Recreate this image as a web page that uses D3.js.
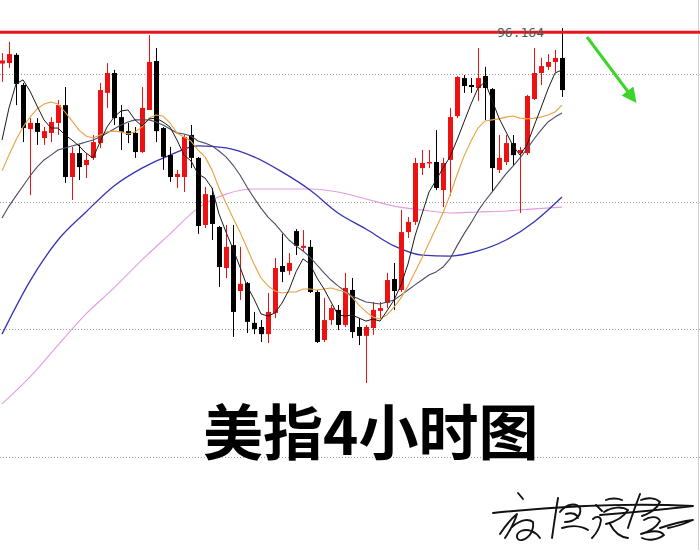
<!DOCTYPE html>
<html>
<head>
<meta charset="utf-8">
<script src="https://cdn.jsdelivr.net/npm/d3@7"></script>
<style>
  body { margin: 0; background: #fff; }
  svg { display: block; }
</style>
</head>
<body>
<svg id="chart" width="700" height="550"></svg>
<script>
// US Dollar Index, 4-hour bars
const opens = [
  96.041,96.043,96.075,95.957,95.784,95.808,95.749,95.769,95.808,95.878,
  95.596,95.690,95.643,95.671,95.729,95.926,96.004,95.831,95.776,95.769,
  95.694,95.859,96.051,95.788,95.682,95.596,95.596,95.761,95.671,95.408,
  95.525,95.400,95.239,95.329,95.149,95.180,95.024,95.008,94.980,95.063,
  95.247,95.228,95.384,95.318,95.322,95.145,94.957,95.035,95.075,95.016,
  95.153,95.008,94.973,95.004,95.071,95.102,95.196,95.153,95.380,95.420,
  95.631,95.651,95.655,95.545,95.663,95.835,95.984,95.957,95.945,95.992,
  95.941,95.624,95.655,95.729,95.690,95.690,95.902,96.004,96.028,96.047,
  96.063
];
const highs = [
  96.082,96.126,96.082,95.965,95.827,95.827,95.792,95.831,95.898,95.949,
  95.714,95.722,95.690,95.761,95.965,96.043,96.016,95.878,95.808,95.792,
  95.949,96.153,96.102,95.792,95.714,95.624,95.761,95.800,95.675,95.557,
  95.553,95.404,95.408,95.408,95.322,95.184,95.067,95.035,95.141,95.278,
  95.373,95.298,95.392,95.388,95.349,95.153,95.122,95.094,95.094,95.220,
  95.200,95.043,95.016,95.106,95.106,95.220,95.259,95.467,95.439,95.671,
  95.702,95.702,95.780,95.671,95.867,95.992,95.996,95.984,96.102,96.028,
  95.945,95.761,95.761,95.761,95.714,95.918,96.102,96.063,96.078,96.094,
  96.180
];
const lows = [
  95.969,96.024,95.878,95.733,95.525,95.722,95.722,95.733,95.761,95.573,
  95.506,95.584,95.592,95.663,95.710,95.867,95.800,95.702,95.729,95.671,
  95.690,95.859,95.733,95.624,95.577,95.553,95.537,95.631,95.373,95.396,
  95.349,95.165,95.200,94.969,95.114,94.984,94.980,94.949,94.945,95.043,
  95.184,95.212,95.290,95.302,95.141,94.945,94.949,95.016,94.996,95.008,
  94.965,94.937,94.788,94.977,95.043,95.082,95.075,95.145,95.357,95.408,
  95.604,95.631,95.545,95.478,95.522,95.827,95.926,95.926,95.894,95.820,
  95.537,95.612,95.643,95.643,95.455,95.682,95.898,95.957,96.016,96.008,
  95.910
];
const closes = [
  96.053,96.078,95.961,95.788,95.808,95.773,95.776,95.812,95.878,95.596,
  95.690,95.635,95.663,95.733,95.937,96.004,95.827,95.773,95.761,95.694,
  95.867,96.047,95.776,95.675,95.596,95.608,95.753,95.671,95.404,95.529,
  95.412,95.243,95.322,95.067,95.177,95.028,95.000,94.980,95.067,95.239,
  95.224,95.259,95.326,95.326,95.145,94.949,95.035,95.082,95.016,95.161,
  94.988,94.973,95.008,95.075,95.082,95.192,95.149,95.380,95.420,95.651,
  95.651,95.655,95.553,95.651,95.831,95.988,95.953,95.949,95.984,95.945,
  95.631,95.671,95.729,95.682,95.702,95.914,96.004,96.031,96.047,96.063,
  95.937
];

// moving averages, one value per bar
const ma5 = [
  95.741,95.867,95.961,95.977,95.933,95.875,95.820,95.788,95.788,95.761,
  95.741,95.718,95.690,95.671,95.733,95.792,95.831,95.855,95.859,95.820,
  95.796,95.824,95.827,95.812,95.792,95.741,95.682,95.659,95.608,95.592,
  95.553,95.451,95.380,95.314,95.243,95.169,95.118,95.059,95.051,95.063,
  95.102,95.153,95.224,95.275,95.255,95.200,95.157,95.106,95.055,95.051,
  95.055,95.043,95.031,95.039,95.031,95.071,95.114,95.173,95.255,95.365,
  95.451,95.537,95.584,95.631,95.675,95.741,95.812,95.882,95.945,95.969,
  95.898,95.827,95.773,95.718,95.682,95.722,95.796,95.867,95.941,96.004,
  96.016
];
const ma10 = [
  95.620,95.682,95.741,95.792,95.831,95.863,95.882,95.890,95.882,95.851,
  95.816,95.780,95.757,95.749,95.761,95.773,95.776,95.773,95.765,95.773,
  95.792,95.827,95.839,95.835,95.808,95.769,95.753,95.737,95.702,95.675,
  95.624,95.553,95.494,95.435,95.380,95.318,95.255,95.200,95.169,95.149,
  95.141,95.145,95.145,95.157,95.157,95.153,95.157,95.161,95.153,95.145,
  95.125,95.094,95.067,95.047,95.039,95.055,95.086,95.122,95.169,95.224,
  95.278,95.337,95.396,95.455,95.525,95.604,95.678,95.737,95.788,95.816,
  95.820,95.824,95.831,95.835,95.827,95.824,95.827,95.831,95.839,95.851,
  95.878
];
const ma20 = [
  95.435,95.482,95.522,95.561,95.600,95.635,95.663,95.682,95.702,95.710,
  95.718,95.725,95.733,95.741,95.753,95.769,95.784,95.800,95.812,95.820,
  95.820,95.820,95.812,95.800,95.784,95.769,95.765,95.757,95.737,95.729,
  95.718,95.698,95.675,95.643,95.604,95.557,95.514,95.474,95.439,95.412,
  95.380,95.349,95.326,95.306,95.282,95.251,95.220,95.192,95.169,95.149,
  95.129,95.118,95.106,95.102,95.098,95.106,95.114,95.133,95.153,95.173,
  95.192,95.212,95.224,95.243,95.275,95.326,95.373,95.416,95.463,95.502,
  95.537,95.573,95.608,95.639,95.671,95.706,95.745,95.780,95.812,95.831,
  95.847
];
// slow averages, one value every 4 bars
const slowStep = 4;
const ma60 = [
  94.980,95.188,95.349,95.459,95.561,95.631,95.682,95.718,95.710,95.675,
  95.616,95.545,95.455,95.392,95.326,95.290,95.286,95.306,95.349,95.420,
  95.518
];
const ma120 = [
  94.706,94.812,94.937,95.059,95.161,95.271,95.373,95.474,95.529,95.549,
  95.549,95.549,95.537,95.510,95.482,95.467,95.455,95.459,95.463,95.471,
  95.478
];

const gridLevels = [96.0, 95.5, 95.0, 94.5];
const resistance = 96.164;
const resistanceLabel = "96.164";
const title = "美指4小时图";

const W = 700, H = 550;
const svg = d3.select("#chart");

const n = closes.length;
const x = d3.scaleLinear().domain([0, n - 1]).range([2, 562]);
const y = d3.scaleLinear().domain([94.5, 96.0]).range([456.5, 74]);

// dotted price grid
const gridAxis = d3.axisLeft(y)
  .tickValues(gridLevels)
  .tickSize(-W)
  .tickFormat("");
const grid = svg.append("g").call(gridAxis);
grid.select(".domain").remove();
grid.selectAll(".tick line")
  .attr("stroke", "#9a9a9a")
  .attr("stroke-width", 1)
  .attr("stroke-dasharray", "1,2")
  .attr("shape-rendering", "crispEdges");

// right frame edge
svg.append("line")
  .attr("x1", W - 1.5).attr("x2", W - 1.5)
  .attr("y1", 0).attr("y2", H)
  .attr("stroke", "#d0d0d0").attr("stroke-width", 1);

// moving average lines
function drawLine(values, step, color, width) {
  const line = d3.line()
    .x((d, i) => x(i * step))
    .y(d => y(d))
    .curve(step > 1 ? d3.curveMonotoneX : d3.curveLinear);
  svg.append("path")
    .datum(values)
    .attr("fill", "none")
    .attr("stroke", color)
    .attr("stroke-width", width)
    .attr("stroke-linejoin", "round")
    .attr("d", line);
}
drawLine(ma120, slowStep, "#e39be3", 1.1);
drawLine(ma60, slowStep, "#3434b4", 1.3);

// candlesticks
const bars = d3.range(n).map(i => ({
  i, o: opens[i], h: highs[i], l: lows[i], c: closes[i]
}));
const upColor = "#ee1111", downColor = "#000000";
const bodyW = 5;
const candles = svg.append("g").selectAll("g")
  .data(bars).join("g");
candles.append("line")
  .attr("x1", d => Math.round(x(d.i)) + 0.5)
  .attr("x2", d => Math.round(x(d.i)) + 0.5)
  .attr("y1", d => y(d.h))
  .attr("y2", d => y(d.l))
  .attr("stroke", d => d.c >= d.o ? upColor : downColor)
  .attr("stroke-width", 1);
candles.append("rect")
  .attr("x", d => Math.round(x(d.i)) + 0.5 - bodyW / 2)
  .attr("width", bodyW)
  .attr("y", d => y(Math.max(d.o, d.c)))
  .attr("height", d => Math.max(1.5, Math.abs(y(d.o) - y(d.c))))
  .attr("fill", d => d.c >= d.o ? upColor : downColor);

drawLine(ma20, 1, "#4b4b66", 1.1);
drawLine(ma10, 1, "#e8a040", 1.1);
drawLine(ma5, 1, "#1a1a1a", 1);

// resistance level
svg.append("line")
  .attr("x1", 0).attr("x2", W)
  .attr("y1", y(resistance)).attr("y2", y(resistance))
  .attr("stroke", "#e3161c").attr("stroke-width", 3);
svg.append("text")
  .attr("x", 497).attr("y", y(resistance) + 4.5)
  .attr("font-family", "DejaVu Sans Mono, monospace")
  .attr("font-size", 13)
  .attr("fill", "#555")
  .text(resistanceLabel);

// expected direction arrow
const defs = svg.append("defs");
defs.append("marker")
  .attr("id", "arrowHead")
  .attr("viewBox", "0 0 10 10")
  .attr("refX", 5).attr("refY", 5)
  .attr("markerWidth", 5).attr("markerHeight", 5)
  .attr("orient", "auto")
  .append("path")
  .attr("d", "M0,0 L10,5 L0,10 z")
  .attr("fill", "#3bd52a");
svg.append("line")
  .attr("x1", 587).attr("y1", 37)
  .attr("x2", 632).attr("y2", 97)
  .attr("stroke", "#3bd52a")
  .attr("stroke-width", 3)
  .attr("marker-end", "url(#arrowHead)");

// chart title
svg.append("text")
  .attr("x", 203).attr("y", 455)
  .attr("font-family", "'Noto Sans CJK SC', sans-serif")
  .attr("font-weight", 700)
  .attr("font-size", 60)
  .attr("fill", "#000")
  .text(title);

// author's signature
const sig = svg.append("g")
  .attr("fill", "none")
  .attr("stroke", "#111")
  .attr("stroke-width", 1.9)
  .attr("stroke-linecap", "round")
  .attr("stroke-linejoin", "round");
const strokes = [
  "M493,513 C560,506 630,503 693,506 C660,510 625,513 600,515",
  "M518,493 L523,499",
  "M500,534 C506,525 512,518 517,514 C514,524 509,532 505,538",
  "M512,527 C520,520 528,518 533,522 C534,530 530,538 522,540 C516,541 515,534 521,531 C528,528 536,532 540,538",
  "M558,498 C556,510 554,524 552,538",
  "M560,512 C566,504 576,502 580,508 C582,516 574,522 565,522 M566,514 C572,512 577,514 578,518 M562,528 C572,525 582,526 588,530",
  "M596,505 L602,511 M593,519 C596,516 600,516 601,520 C600,528 596,534 592,538",
  "M606,500 C610,498 618,498 622,500 M604,512 C612,507 622,506 628,510 C623,518 614,522 606,524 M610,524 C614,532 620,537 628,538",
  "M640,494 C636,505 632,515 628,528 M641,500 C648,497 656,498 660,502 C656,510 648,514 642,516",
  "M644,520 C650,516 658,516 660,521 C656,528 648,532 641,534 C650,531 660,530 664,535 C658,540 648,541 642,538",
  "M660,528 C672,524 684,521 693,520 C684,524 674,527 668,528"
];
sig.selectAll("path").data(strokes).join("path").attr("d", d => d);
</script>
</body>
</html>
